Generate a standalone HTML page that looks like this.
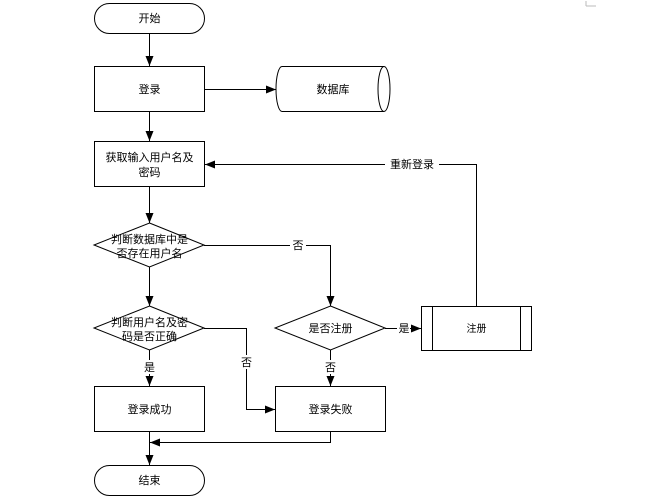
<!DOCTYPE html>
<html><head><meta charset="utf-8"><style>
html,body{margin:0;padding:0;background:#fff;}
svg text{font-family:"Liberation Sans","Noto Sans CJK SC",sans-serif;font-size:11px;fill:#000;}
</style></head><body>
<svg width="651" height="499" viewBox="0 0 651 499" xmlns="http://www.w3.org/2000/svg">
<defs><marker id="a" markerWidth="10" markerHeight="8" refX="10" refY="4" orient="auto" markerUnits="userSpaceOnUse"><path d="M0,0 L10,4 L0,8 z" fill="#000"/></marker></defs>
<g fill="none" stroke="#000" stroke-width="1">
<path d="M586,6 H596 M586,6 V1" stroke="#bbb"/>
<rect x="94.5" y="3.5" width="110" height="30" rx="15" fill="#fff"/>
<rect x="94.5" y="66.5" width="110" height="45" fill="#fff"/>
<path d="M282,66.5 H384 A6,22.5 0 0 1 384,111.5 H282 A6,22.5 0 0 1 282,66.5 Z" fill="#fff"/>
<path d="M384,66.5 A6,22.5 0 0 0 384,111.5"/>
<rect x="94.5" y="141.5" width="110" height="45" fill="#fff"/>
<path d="M149.5,223 L204,245 L149.5,267 L94,245 Z" fill="#fff"/>
<path d="M149.5,306 L204,328 L149.5,350 L94,328 Z" fill="#fff"/>
<path d="M330.5,306 L385,328 L330.5,350 L275,328 Z" fill="#fff"/>
<rect x="421.5" y="306.5" width="110" height="44" fill="#fff"/>
<path d="M432.5,306.5 V350.5 M520.5,306.5 V350.5"/>
<rect x="94.5" y="386.5" width="110" height="45" fill="#fff"/>
<rect x="275.5" y="386.5" width="110" height="45" fill="#fff"/>
<rect x="94.5" y="465.5" width="110" height="30" rx="15" fill="#fff"/>
<path d="M149.5,33.5 V66" marker-end="url(#a)"/>
<path d="M204.5,89.5 H276" marker-end="url(#a)"/>
<path d="M149.5,111.5 V141" marker-end="url(#a)"/>
<path d="M149.5,186.5 V223" marker-end="url(#a)"/>
<path d="M149.5,267 V306" marker-end="url(#a)"/>
<path d="M149.5,350 V386" marker-end="url(#a)"/>
<path d="M204,245.5 H330.5 V306" marker-end="url(#a)"/>
<path d="M204,328.5 H246.5 V409.5 H275" marker-end="url(#a)"/>
<path d="M385,328.5 H421" marker-end="url(#a)"/>
<path d="M330.5,350 V386" marker-end="url(#a)"/>
<path d="M476.5,306 V164.5 H205" marker-end="url(#a)"/>
<path d="M330.5,431.5 V442.5 H150" marker-end="url(#a)"/>
<path d="M149.5,431.5 V465" marker-end="url(#a)"/>
</g>
<g text-anchor="middle">
<text x="149.5" y="22">开始</text>
<text x="149.5" y="93">登录</text>
<text x="333" y="93">数据库</text>
<text x="149.5" y="161">获取输入用户名及</text>
<text x="149.5" y="176">密码</text>
<text x="149.5" y="243" fill="#000">判断数据库中是</text>
<text x="149.5" y="257">否存在用户名</text>
<text x="149.5" y="326">判断用户名及密</text>
<text x="149.5" y="340">码是否正确</text>
<text x="330.5" y="332">是否注册</text>
<text x="476.5" y="332" style="font-size:10px">注册</text>
<text x="149.5" y="413">登录成功</text>
<text x="330.5" y="413">登录失败</text>
<text x="149.5" y="484">结束</text>
</g>
<g text-anchor="middle">
<rect x="290" y="239" width="16" height="12" fill="#fff"/><text x="298" y="249">否</text>
<rect x="385" y="158" width="54" height="12" fill="#fff"/><text x="412" y="168">重新登录</text>
<rect x="240" y="355" width="13" height="14" fill="#fff"/><text x="246.5" y="366">否</text>
<rect x="143" y="360" width="13" height="14" fill="#fff"/><text x="149.5" y="371">是</text>
<rect x="324" y="360" width="13" height="14" fill="#fff"/><text x="330.5" y="371">否</text>
<rect x="397" y="322" width="13" height="12" fill="#fff"/><text x="404" y="332">是</text>
</g>
</svg>
</body></html>
